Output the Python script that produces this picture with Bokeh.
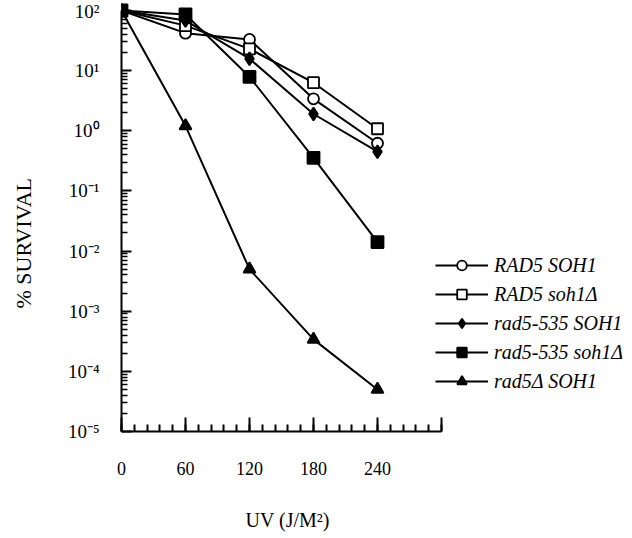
from bokeh.plotting import figure
from bokeh.models import (FixedTicker, Range1d, Legend, LegendItem, Title,
                          LinearAxis, LogAxis)
from bokeh.embed import file_html
from bokeh.resources import INLINE

# ---- data ----
uv_dose = [0, 60, 120, 180, 240]
rad5_soh1 = [100, 42, 33, 3.4, 0.62]
rad5_soh1d = [100, 56, 23, 6.3, 1.08]
rad5_535_soh1 = [100, 68, 15.8, 1.9, 0.45]
rad5_535_soh1d = [100, 86, 7.9, 0.355, 0.0141]
rad5d_soh1 = [100, 1.21, 0.005, 3.4e-4, 5e-5]

series_labels = ["RAD5 SOH1", "RAD5 soh1\u0394", "rad5-535 SOH1",
                 "rad5-535 soh1\u0394", "rad5\u0394 SOH1"]

x_major = [0, 60, 120, 180, 240, 300]
x_minor = [v for v in range(0, 301, 12)]
y_exponents = [-5, -4, -3, -2, -1, 0, 1, 2]
sup = str.maketrans("-0123456789", "\u207b\u2070\u00b9\u00b2\u00b3\u2074\u2075\u2076\u2077\u2078\u2079")

SERIF = "Liberation Serif"

p = figure(width=630, height=536,
           x_range=Range1d(0, 477.2), y_range=Range1d(1e-5, 10 ** 2.166),
           y_axis_type="log", output_backend="svg", toolbar_location=None,
           title=None,
           min_border_left=121, min_border_right=0,
           min_border_top=0, min_border_bottom=105)
p.xgrid.visible = False
p.ygrid.visible = False
p.outline_line_color = None
p.background_fill_color = "white"
p.border_fill_color = "white"


def style_axis(ax):
    ax.major_tick_out = 0
    ax.minor_tick_out = 0
    ax.axis_line_width = 2
    ax.major_tick_line_width = 2
    ax.axis_line_color = "black"
    ax.major_tick_line_color = "black"
    ax.minor_tick_line_color = "black"
    ax.major_label_text_font = SERIF
    ax.major_label_text_color = "black"


# x axis
xa = p.xaxis[0]
style_axis(xa)
xa.bounds = (0, 300)
xa.ticker = FixedTicker(ticks=x_major, minor_ticks=x_minor)
xa.major_label_overrides = {300: ""}
xa.major_tick_in = 14
xa.minor_tick_in = 7
xa.minor_tick_line_width = 2
xa.major_label_text_font_size = "18px"
xa.major_label_standoff = 30

# y axis
ya = p.yaxis[0]
style_axis(ya)
ya.bounds = (1e-5, 100)
y_major = [10.0 ** e for e in y_exponents]
y_minor = [k * 10.0 ** e for e in y_exponents[:-1] for k in range(2, 10)]
ya.ticker = FixedTicker(ticks=y_major, minor_ticks=y_minor)
ya.major_label_overrides = {10.0 ** e: "10" + str(e).translate(sup) for e in y_exponents}
ya.major_tick_in = 10
ya.minor_tick_in = 6
ya.minor_tick_line_width = 1.5
ya.major_label_text_font_size = "19px"
ya.major_label_standoff = 22


# blank spacer axes (one white tick in empty border space, no line, no label)
# that only reserve room so the axis titles sit where the reference has them
def spacer(ax, tick, room):
    ax.ticker = FixedTicker(ticks=[tick])
    ax.major_label_overrides = {tick: ""}
    ax.axis_line_color = None
    ax.major_tick_line_color = "white"
    ax.minor_tick_line_color = None
    ax.major_tick_in = 0
    ax.major_tick_out = room
    ax.minor_tick_in = 0
    ax.minor_tick_out = 0
    ax.major_label_standoff = 0
    ax.major_label_text_font_size = "1px"
    return ax


p.add_layout(spacer(LinearAxis(), 450, 27), "below")
p.add_layout(spacer(LogAxis(), 1e-5, 26), "left")

styles = [
    (rad5_soh1, "circle", "white", 11),
    (rad5_soh1d, "square", "white", 11),
    (rad5_535_soh1, "diamond", "black", 13),
    (rad5_535_soh1d, "square", "black", 12),
    (rad5d_soh1, "triangle", "black", 12),
]

items = []
for (vals, marker, fill, size), lab in zip(styles, series_labels):
    ln = p.line(uv_dose, vals, line_color="black", line_width=2)
    sc = p.scatter(uv_dose, vals, marker=marker, size=size, fill_color=fill,
                   line_color="black", line_width=1.8)
    items.append(LegendItem(label=lab, renderers=[ln, sc]))

legend = Legend(items=items, location=(314, 38), orientation="vertical",
                glyph_width=53, glyph_height=24, label_height=24, spacing=5,
                padding=0, margin=0, label_standoff=6,
                label_text_font=SERIF, label_text_font_style="italic",
                label_text_font_size="20px", label_text_color="black",
                border_line_color=None, background_fill_alpha=0)
p.add_layout(legend)

# axis titles
p.add_layout(Title(text="% SURVIVAL", align="left", offset=123, standoff=6,
                   text_font=SERIF, text_font_size="22px",
                   text_font_style="normal", text_color="black"), "left")
p.add_layout(Title(text="UV (J/M\u00b2)", align="left", offset=124, standoff=4,
                   text_font=SERIF, text_font_size="20px",
                   text_font_style="normal", text_color="black"), "below")

open("out.html", "w").write(file_html(p, INLINE))
